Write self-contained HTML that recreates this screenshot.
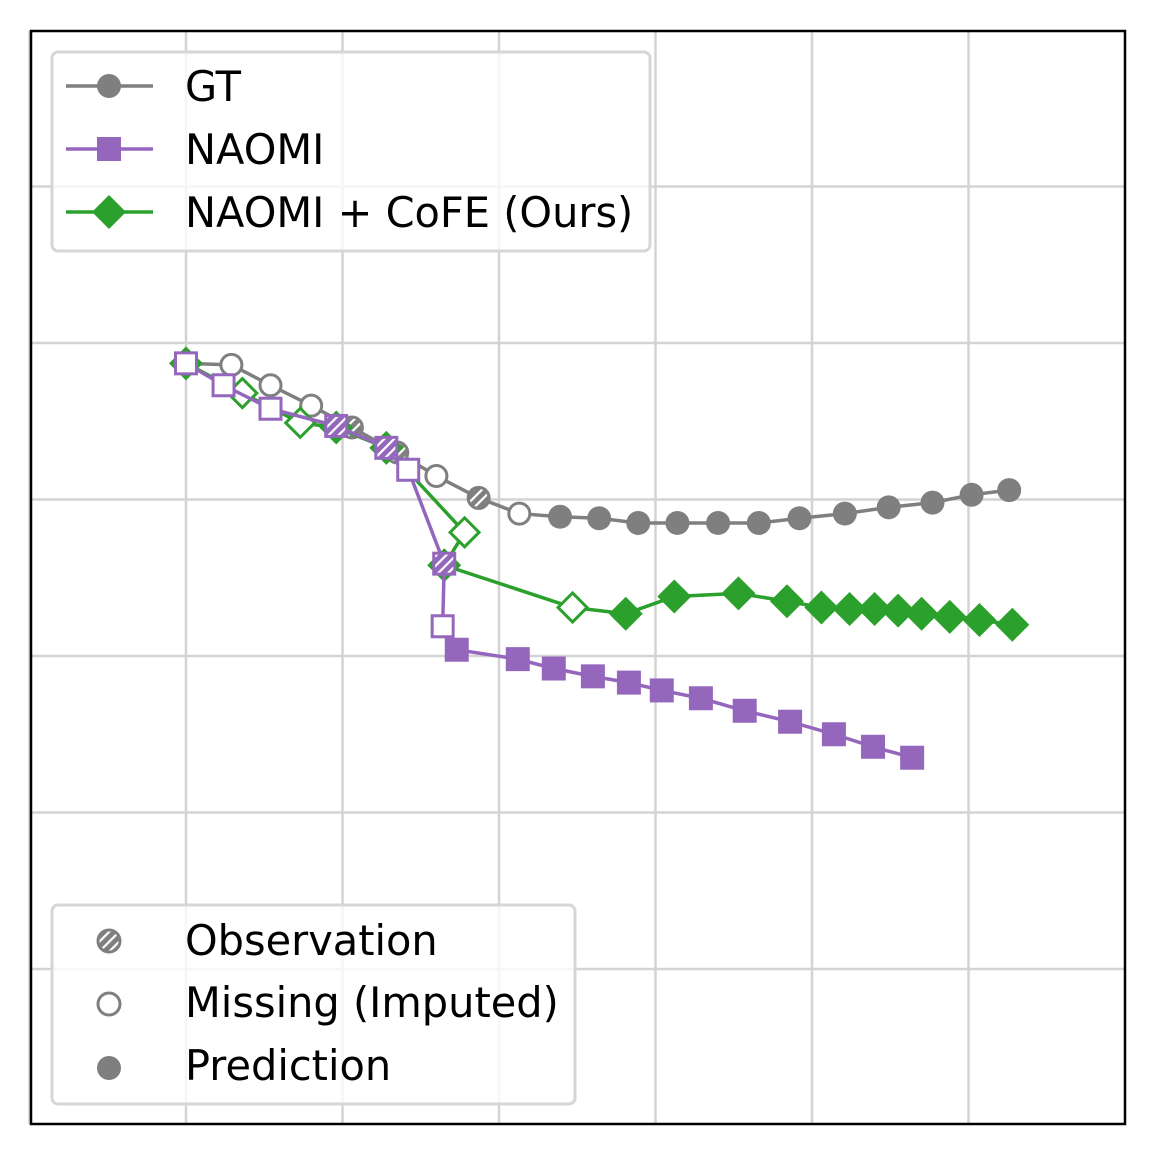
<!DOCTYPE html>
<html><head><meta charset="utf-8"><style>
body{margin:0;background:#fff}
svg text{font-family:"DejaVu Sans","Liberation Sans",sans-serif;font-size:41.5px;fill:#000}
</style></head><body>
<svg id="chart" width="1170" height="1170" viewBox="0 0 1170 1170" xmlns="http://www.w3.org/2000/svg">
<defs>
<pattern id="hatchG" patternUnits="userSpaceOnUse" width="7" height="7" patternTransform="rotate(45)"><rect width="7" height="7" fill="#7f7f7f"/><rect width="2.2" height="7" fill="#fff"/></pattern>
<pattern id="hatchP" patternUnits="userSpaceOnUse" width="7" height="7" patternTransform="rotate(45)"><rect width="7" height="7" fill="#9467bd"/><rect width="2.2" height="7" fill="#fff"/></pattern>
<pattern id="hatchC" patternUnits="userSpaceOnUse" width="7" height="7" patternTransform="rotate(45)"><rect width="7" height="7" fill="#2ca02c"/><rect width="2.2" height="7" fill="#fff"/></pattern>
<clipPath id="plotclip"><rect x="31" y="31" width="1094" height="1093"/></clipPath>
</defs>
<rect x="0" y="0" width="1170" height="1170" fill="#fff"/>
<g id="grid"></g>
<g id="series" clip-path="url(#plotclip)"></g>
<rect x="31" y="31" width="1094" height="1093" fill="none" stroke="#000" stroke-width="2.5"/>
<g>
<rect x="52" y="52" width="598" height="199" rx="6" fill="#fff" fill-opacity="0.8" stroke="#d6d6d6" stroke-width="3"/>
<line x1="66" y1="86" x2="153" y2="86" stroke="#7f7f7f" stroke-width="3.5"/><circle cx="109" cy="86" r="12" fill="#7f7f7f"/>
<text x="185" y="101">GT</text>
<line x1="66" y1="149" x2="153" y2="149" stroke="#9467bd" stroke-width="3.5"/><rect x="97" y="137" width="24" height="24" fill="#9467bd"/>
<text x="185" y="164">NAOMI</text>
<line x1="66" y1="212" x2="153" y2="212" stroke="#2ca02c" stroke-width="3.5"/><polygon points="109,195 126,212 109,229 92,212" fill="#2ca02c"/>
<text x="185" y="227">NAOMI + CoFE (Ours)</text>
</g>
<g>
<rect x="52" y="905" width="523" height="199" rx="6" fill="#fff" fill-opacity="0.8" stroke="#d6d6d6" stroke-width="3"/>
<circle cx="109" cy="941" r="11" fill="url(#hatchG)" stroke="#7f7f7f" stroke-width="3"/>
<text x="185" y="955">Observation</text>
<circle cx="109" cy="1004" r="11" fill="#fff" stroke="#7f7f7f" stroke-width="3"/>
<text x="185" y="1017">Missing (Imputed)</text>
<circle cx="109" cy="1068" r="12" fill="#7f7f7f"/>
<text x="185" y="1080">Prediction</text>
</g>
</svg>
<script>
const gtX=[0,0.29,0.54,0.80,1.06,1.35,1.60,1.87,2.13,2.39,2.64,2.89,3.14,3.40,3.66,3.92,4.21,4.49,4.77,5.02,5.26];
const gtY=[-0.13,-0.14,-0.27,-0.40,-0.54,-0.70,-0.85,-0.99,-1.09,-1.11,-1.12,-1.15,-1.15,-1.15,-1.15,-1.12,-1.09,-1.05,-1.02,-0.97,-0.94];
const gtType="hmmmhhmhmpppppppppppp";
const naomiX=[0,0.24,0.54,0.96,1.28,1.42,1.65,1.64,1.73,2.12,2.35,2.60,2.83,3.04,3.29,3.57,3.86,4.14,4.39,4.64];
const naomiY=[-0.13,-0.27,-0.42,-0.53,-0.67,-0.81,-1.41,-1.81,-1.96,-2.02,-2.08,-2.13,-2.17,-2.22,-2.27,-2.35,-2.42,-2.50,-2.58,-2.65];
const naomiType="mmmhhmhmpppppppppppp";
const cofeX=[0,0.36,0.73,0.96,1.28,1.78,1.65,2.47,2.81,3.12,3.53,3.84,4.06,4.24,4.40,4.55,4.70,4.88,5.07,5.28];
const cofeY=[-0.13,-0.32,-0.51,-0.54,-0.67,-1.21,-1.42,-1.69,-1.73,-1.62,-1.60,-1.65,-1.69,-1.70,-1.70,-1.71,-1.73,-1.75,-1.77,-1.80];
const cofeType="pmmppmpmpppppppppppp";
const gridX=[-1,0,1,2,3,4,5];
const gridY=[1,0,-1,-2,-3,-4];

const NS="http://www.w3.org/2000/svg";
const sx=v=>186+156.5*v, sy=v=>343-156.5*v;
function mk(tag,attrs,parent){const e=document.createElementNS(NS,tag);for(const k in attrs)e.setAttribute(k,attrs[k]);parent.appendChild(e);return e;}
const grid=document.getElementById('grid');
gridX.forEach(v=>{const l=mk('line',{x1:sx(v),x2:sx(v),y1:31,y2:1124,stroke:'#d3d3d3','stroke-width':2.5},grid);

});
gridY.forEach(v=>{const l=mk('line',{x1:31,x2:1125,y1:sy(v),y2:sy(v),stroke:'#d3d3d3','stroke-width':2.5},grid);

});
const root=document.getElementById('series');
function draw(name,xs,ys,types,color,hatch,shape){
  const g=mk('g',{},root);
  
  
  const pl=mk('polyline',{points:xs.map((x,i)=>sx(x)+','+sy(ys[i])).join(' '),fill:'none',stroke:color,'stroke-width':3.5},g);
  
  
  xs.forEach((x,i)=>{
    const t=types[i],cx=sx(x),cy=sy(ys[i]);
    const fill=t==='p'?color:(t==='h'?'url(#'+hatch+')':'#fff');
    const st=t==='p'?'none':color;
    let m;
    if(shape==='c') m=mk('circle',{cx:cx,cy:cy,r:t==='p'?12:10.5,fill:fill,stroke:st,'stroke-width':3},g);
    else if(shape==='s'){const h=t==='p'?12:10.5;m=mk('rect',{x:cx-h,y:cy-h,width:2*h,height:2*h,fill:fill,stroke:st,'stroke-width':3},g);}
    else {const h=t==='p'?17:14.5;m=mk('polygon',{points:`${cx},${cy-h} ${cx+h},${cy} ${cx},${cy+h} ${cx-h},${cy}`,fill:fill,stroke:st,'stroke-width':3},g);}
    
    
  });
}
draw('gt',gtX,gtY,gtType,'#7f7f7f','hatchG','c');
draw('cofe',cofeX,cofeY,cofeType,'#2ca02c','hatchC','d');
draw('naomi',naomiX,naomiY,naomiType,'#9467bd','hatchP','s');
</script>
</body></html>
